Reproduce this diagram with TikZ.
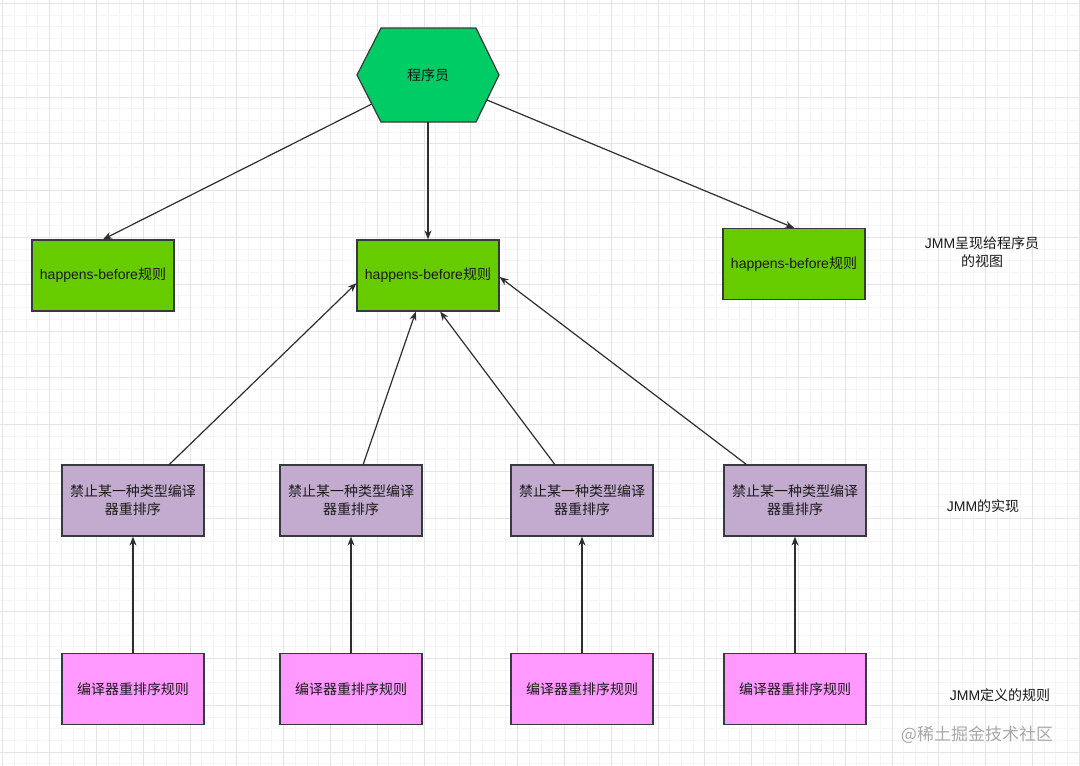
\documentclass[tikz,border=0pt]{standalone}
\usepackage{fontspec}
\setmainfont{Liberation Sans}
\newfontfamily\cjk{Noto Sans CJK SC}
\usetikzlibrary{arrows.meta,calc}
\definecolor{hexfill}{HTML}{00CC66}
\definecolor{grfill}{HTML}{66CC00}
\definecolor{pufill}{HTML}{C3ABD0}
\definecolor{pkfill}{HTML}{FF99FF}
\definecolor{edgec}{HTML}{36393D}
\definecolor{arr}{HTML}{2E2E2E}
\definecolor{minorg}{HTML}{F5F5F5}
\definecolor{majorg}{HTML}{E4E4E4}
\definecolor{txt}{HTML}{1A1A1A}
\definecolor{wm}{HTML}{A8A8A8}
\begin{document}
\begin{tikzpicture}[x=1pt,y=-1pt,
 box/.style={draw=edgec, line width=1.2pt, minimum width=142pt, minimum height=71pt, inner sep=0pt, align=center, font=\fontsize{14}{18}\selectfont, text=txt},
 gbox/.style={box, fill=grfill},
 pbox/.style={box, fill=pufill},
 kbox/.style={box, fill=pkfill},
 conn/.style={draw=arr, line width=1.2pt, -{Stealth[length=9pt,width=7pt]}},
 lbl/.style={align=center, font=\fontsize{14}{17.5}\selectfont, text=txt}]
\useasboundingbox (0,0) rectangle (1080,766);
\fill[white] (0,0) rectangle (1080,766);
% grid
\foreach \i in {0,...,92} {\draw[minorg, line width=0.8pt] ({2.7+11.7*\i},0) -- ++(0,766);}
\foreach \i in {0,...,65} {\draw[minorg, line width=0.8pt] (0,{3.3+11.7*\i}) -- ++(1080,0);}
\foreach \i in {0,...,23} {\draw[majorg, line width=0.8pt] ({2.7+46.8*\i},0) -- ++(0,766);}
\foreach \i in {0,...,16} {\draw[majorg, line width=0.8pt] (0,{3.3+46.8*\i}) -- ++(1080,0);}

% hexagon
\coordinate (hL) at (357,75);
\coordinate (hTL) at (381,28);
\coordinate (hTR) at (476,28);
\coordinate (hR) at (499,75);
\coordinate (hBR) at (476,122);
\coordinate (hBL) at (381,122);
\draw[draw=edgec, line width=1.2pt, fill=hexfill] (hL) -- (hTL) -- (hTR) -- (hR) -- (hBR) -- (hBL) -- cycle;
\node[lbl] (hex) at (428,75) {\cjk 程序员};
\coordinate (hexB) at (428,122);

% green boxes
\node[gbox] (g1) at (103,275.5) {happens-before{\cjk 规则}};
\node[gbox] (g2) at (428,275.5) {happens-before{\cjk 规则}};
\node[gbox] (g3) at (794,264) {happens-before{\cjk 规则}};

% purple boxes
\node[pbox] (p1) at (133,500.5) {\cjk 禁止某一种类型编译\\\cjk 器重排序};
\node[pbox] (p2) at (351,500.5) {\cjk 禁止某一种类型编译\\\cjk 器重排序};
\node[pbox] (p3) at (582,500.5) {\cjk 禁止某一种类型编译\\\cjk 器重排序};
\node[pbox] (p4) at (795,500.5) {\cjk 禁止某一种类型编译\\\cjk 器重排序};

% pink boxes
\node[kbox] (k1) at (133,689) {\cjk 编译器重排序规则};
\node[kbox] (k2) at (351,689) {\cjk 编译器重排序规则};
\node[kbox] (k3) at (582,689) {\cjk 编译器重排序规则};
\node[kbox] (k4) at (795,689) {\cjk 编译器重排序规则};

% side labels
\node[lbl] (l1) at (982,252) {JMM{\cjk 呈现给程序员}\\{\cjk 的视图}};
\node[lbl] (l2) at (983,506) {JMM{\cjk 的实现}};
\node[lbl] (l3) at (1000,695) {JMM{\cjk 定义的规则}};
\node[font=\fontsize{17}{20}\selectfont, text=wm] (wmk) at (977,735) {\cjk @稀土掘金技术社区};

% connectors from hexagon
\draw[conn] ($(hL)!0.617!(hBL)$) -- (g1.north);
\draw[conn] (hexB) -- (g2.north);
\draw[conn] ($(hR)!0.53!(hBR)$) -- (g3.north);

% purple to central green
\draw[conn] ($(p1.north west)!0.754!(p1.north east)$) -- ($(g2.north west)!0.606!(g2.south west)$);
\draw[conn] ($(p2.north west)!0.585!(p2.north east)$) -- ($(g2.south west)!0.415!(g2.south east)$);
\draw[conn] ($(p3.north west)!0.31!(p3.north east)$) -- ($(g2.south west)!0.585!(g2.south east)$);
\draw[conn] ($(p4.north west)!0.16!(p4.north east)$) -- ($(g2.north east)!0.52!(g2.south east)$);

% pink to purple
\draw[conn] (k1.north) -- (p1.south);
\draw[conn] (k2.north) -- (p2.south);
\draw[conn] (k3.north) -- (p3.south);
\draw[conn] (k4.north) -- (p4.south);
\end{tikzpicture}
\end{document}
